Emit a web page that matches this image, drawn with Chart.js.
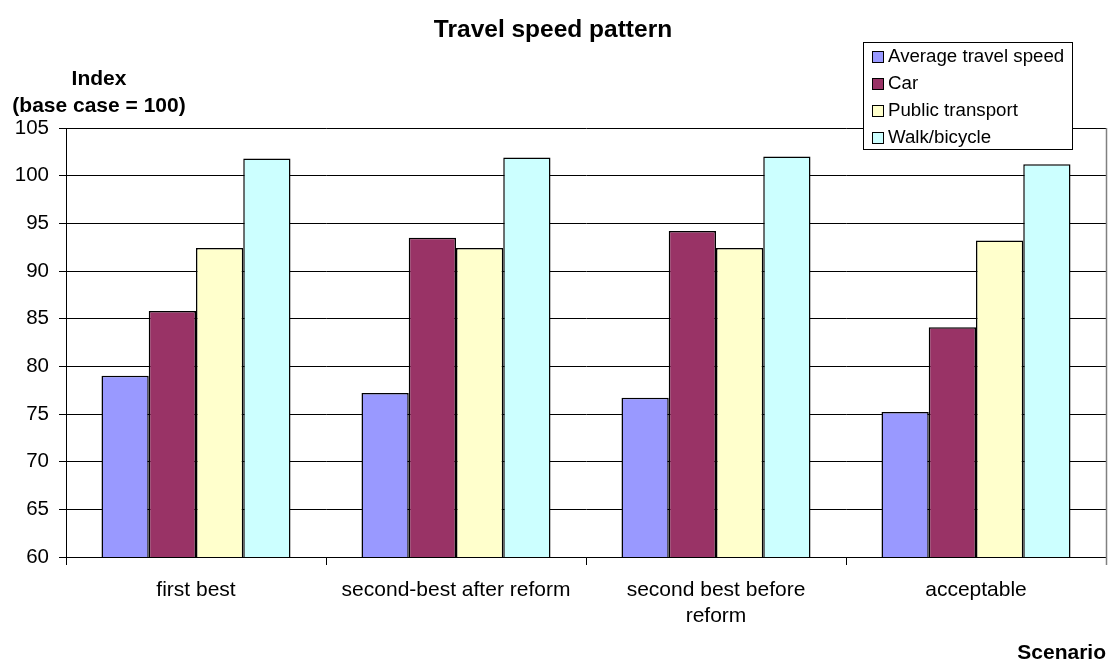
<!DOCTYPE html>
<html>
<head>
<meta charset="utf-8">
<title>Travel speed pattern</title>
<script src="https://cdn.jsdelivr.net/npm/chart.js@4/dist/chart.umd.min.js"></script>
<style>
  html, body { margin: 0; padding: 0; background: #ffffff; }
  #wrap { width: 1117px; height: 667px; position: relative; }
</style>
</head>
<body>
<div id="wrap"><canvas id="chart"></canvas></div>
<script>
// Scenarios on the category axis
const scenarios = ['first best', 'second-best after reform', ['second best before', 'reform'], 'acceptable'];

// Series names (legend order)
const seriesNames = ['Average travel speed', 'Car', 'Public transport', 'Walk/bicycle'];

// Speed index per scenario (base case = 100)
const avgTravelSpeed  = [79.0, 77.2, 76.7, 75.2];
const carSpeed        = [85.8, 93.5, 94.2, 84.1];
const publicTransport = [92.4, 92.4, 92.4, 93.2];
const walkBicycle     = [101.8, 101.9, 102.0, 101.2];

// Value axis range and step
const yMin = 60;
const yMax = 105;
const yStep = 5;

const seriesColors = ['#9999FF', '#993366', '#FFFFCC', '#CCFFFF'];
const seriesValues = [avgTravelSpeed, carSpeed, publicTransport, walkBicycle];

const FONT = "'Liberation Sans', Arial, Helvetica, sans-serif";

// Plot frame: grey right edge like the spreadsheet plot area
const plotFrame = {
  id: 'plotFrame',
  afterDatasetsDraw(chart) {
    const { ctx, chartArea } = chart;
    ctx.save();
    ctx.strokeStyle = '#808080';
    ctx.lineWidth = 1.5;
    ctx.beginPath();
    ctx.moveTo(chartArea.right + 0.5, chartArea.top);
    ctx.lineTo(chartArea.right + 0.5, chartArea.bottom + 8);
    ctx.stroke();
    ctx.restore();
  }
};

// Horizontal value-axis caption above the tick labels
const valueCaption = {
  id: 'valueCaption',
  afterDraw(chart) {
    const { ctx } = chart;
    ctx.save();
    ctx.fillStyle = '#000';
    ctx.font = 'bold 21px ' + FONT;
    ctx.textAlign = 'center';
    ctx.textBaseline = 'middle';
    ctx.fillText('Index', 99, 79);
    ctx.fillText('(base case = 100)', 99, 106);
    ctx.restore();
  }
};

// Boxed legend in the upper right corner
const boxLegend = {
  id: 'boxLegend',
  afterDraw(chart) {
    const { ctx } = chart;
    const x = 863, y = 42, w = 209, h = 107;
    ctx.save();
    ctx.fillStyle = '#ffffff';
    ctx.fillRect(x, y, w, h);
    ctx.strokeStyle = '#000';
    ctx.lineWidth = 1;
    ctx.strokeRect(x + 0.5, y + 0.5, w, h);
    ctx.font = '18.7px ' + FONT;
    ctx.textAlign = 'left';
    ctx.textBaseline = 'middle';
    chart.data.datasets.forEach((ds, i) => {
      const cy = 56.5 + i * 27;
      ctx.fillStyle = ds.backgroundColor;
      ctx.fillRect(872, Math.round(cy - 6), 12, 12);
      ctx.strokeStyle = '#000';
      ctx.strokeRect(872.5, Math.round(cy - 6) + 0.5, 11, 11);
      ctx.fillStyle = '#000';
      ctx.fillText(ds.label, 888, cy);
    });
    ctx.restore();
  }
};

new Chart(document.getElementById('chart'), {
  type: 'bar',
  data: {
    labels: scenarios,
    datasets: seriesNames.map((name, i) => ({
      label: name,
      data: seriesValues[i],
      backgroundColor: seriesColors[i],
      borderColor: '#000000',
      borderWidth: 1.5,
      borderSkipped: false,
      categoryPercentage: 0.727,
      barPercentage: 1.0
    }))
  },
  options: {
    responsive: true,
    maintainAspectRatio: false,
    animation: false,
    layout: { padding: { left: 0, right: 11, top: 0, bottom: 0 } },
    plugins: {
      legend: { display: false },
      tooltip: { enabled: false },
      title: {
        display: true,
        text: 'Travel speed pattern',
        color: '#000',
        font: { family: FONT, size: 24.5, weight: 'bold' },
        padding: { top: 15.3, bottom: 83.3 }
      }
    },
    scales: {
      x: {
        grid: {
          offset: true,
          drawOnChartArea: false,
          drawTicks: true,
          tickLength: 8,
          color: '#000'
        },
        border: { color: '#000', width: 1 },
        ticks: {
          color: '#000',
          font: { family: FONT, size: 21, lineHeight: 1.25 },
          padding: 12,
          maxRotation: 0,
          autoSkip: false
        },
        title: {
          display: true,
          text: 'Scenario',
          align: 'end',
          color: '#000',
          font: { family: FONT, size: 21, weight: 'bold' },
          padding: { top: 0, bottom: 1 }
        },
        afterFit(scale) { scale.height = 110; }
      },
      y: {
        min: yMin,
        max: yMax,
        grid: {
          color: '#000',
          lineWidth: 1,
          drawTicks: true,
          tickLength: 7
        },
        border: { color: '#000', width: 1 },
        ticks: {
          stepSize: yStep,
          color: '#000',
          font: { family: FONT, size: 20.5 },
          padding: 10
        },
        afterFit(scale) { scale.width = 66; }
      }
    }
  },
  plugins: [plotFrame, valueCaption, boxLegend]
});
</script>
</body>
</html>
